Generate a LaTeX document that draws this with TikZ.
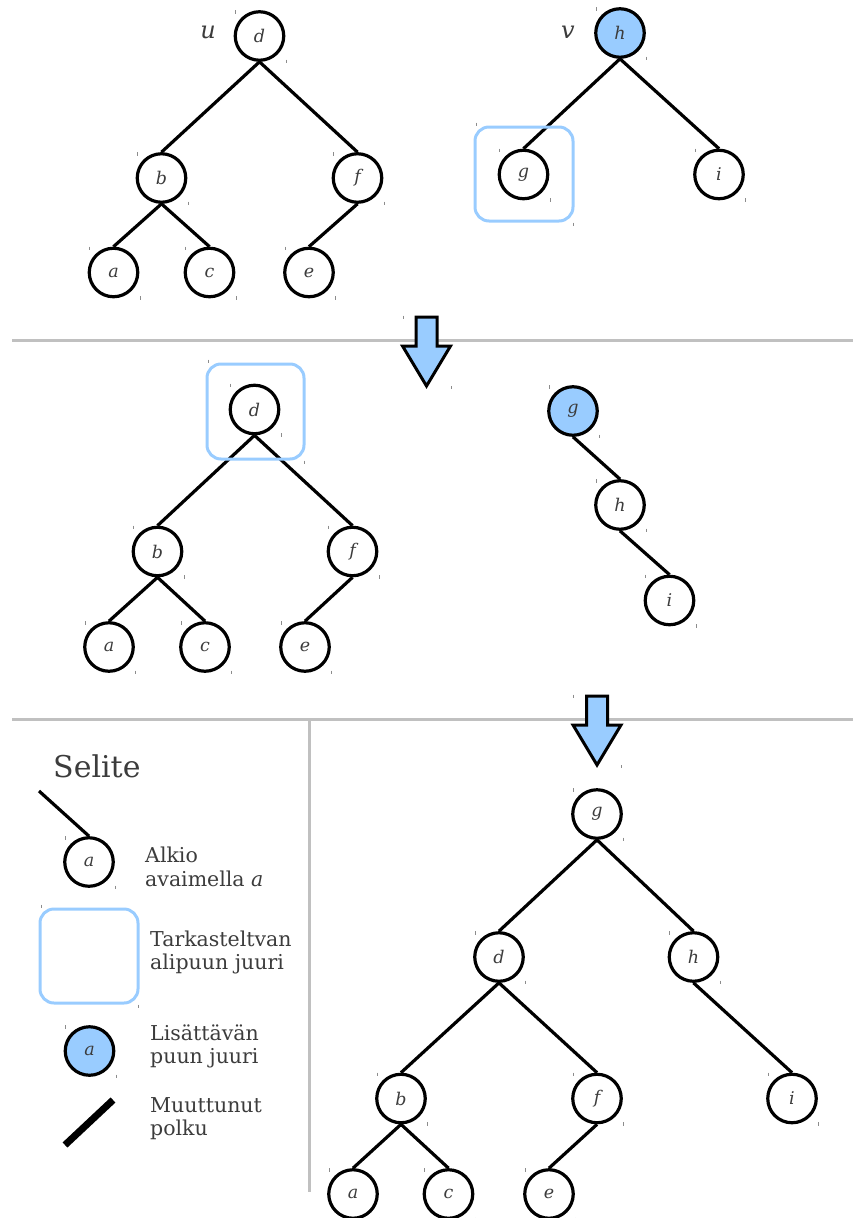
\documentclass[tikz,border=0pt]{standalone}
\usepackage{fontspec}
\setmainfont{DejaVu Serif}

\definecolor{ink}{HTML}{3C3C3C}
\definecolor{keyblue}{HTML}{99CCFF}
\definecolor{rulegray}{HTML}{C0C0C0}
\definecolor{tickgray}{HTML}{8C8C8C}

\tikzset{
  key/.style={circle, draw=black, line width=3.2pt, minimum size=48.5pt,
    inner sep=0pt, fill=white, text=ink,
    font=\fontsize{17.5}{20}\selectfont\itshape},
  newroot/.style={key, fill=keyblue},
  edge/.style={line width=3.2pt},
  focusbox/.style={draw=keyblue, line width=3pt, rounded corners=14pt},
  rule/.style={draw=rulegray, line width=3pt},
  movearrow/.style={draw=black, line width=3pt, fill=keyblue, line join=miter},
  legendtext/.style={anchor=base west, align=left, inner sep=0pt, text=ink,
    font=\fontsize{20.5}{23.5}\selectfont},
  treename/.style={anchor=base, text=ink, font=\fontsize{24}{27}\selectfont\itshape},
  tickmark/.style={draw=tickgray, line width=0.8pt},
  downarrow/.pic={
    \draw[movearrow] (-10.5,0) -- (10.5,0) -- (10.5,29) -- (24,29)
      -- (0,69) -- (-24,29) -- (-10.5,29) -- cycle;
    \draw[tickmark] (-23.5,-1.5) -- ++(0,3);
    \draw[tickmark] (24.5,69) -- ++(0,3);
  }
}

% small corner marks beside each key
\newcommand\cornermarks[1]{%
  \draw[tickmark] ([shift={(-24,-26)}]#1.center) -- ++(0,3.5);
  \draw[tickmark] ([shift={(26.5,23.5)}]#1.center) -- ++(0,3.5);
}
% rounded frame with its corner marks
\newcommand\focusframe[4]{%
  \draw[focusbox] (#1,#2) rectangle (#3,#4);
  \draw[tickmark] (#1+1,#2-4.5) -- ++(0,3);
  \draw[tickmark] (#3,#4+1.5) -- ++(0,3);
}

\begin{document}
\begin{tikzpicture}[x=1pt, y=-1pt]
\useasboundingbox (0,0) rectangle (853,1218);

% ---------- first row: trees u and v ----------
\node[treename] at (208,38) {u};
\node[treename] at (568,38) {v};

\node[key] (ud) at (259.5,36) {d};
\node[key] (ub) at (161.5,178) {b};
\node[key] (uf) at (357.5,178) {f};
\node[key] (ua) at (113.5,272.5) {a};
\node[key] (uc) at (209.5,272.5) {c};
\node[key] (ue) at (309,272.5) {e};
\draw[edge] (ud.south) -- (ub.north);
\draw[edge] (ud.south) -- (uf.north);
\draw[edge] (ub.south) -- (ua.north);
\draw[edge] (ub.south) -- (uc.north);
\draw[edge] (uf.south) -- (ue.north);

\node[newroot] (vh) at (620,33) {h};
\node[key] (vg) at (523.5,174.5) {g};
\node[key] (vi) at (719,174.5) {i};
\draw[edge] (vh.south) -- (vg.north);
\draw[edge] (vh.south) -- (vi.north);
\focusframe{475}{127}{573}{221}

\foreach \n in {ud,ub,uf,ua,uc,ue,vh,vg,vi} {\cornermarks{\n}}

\draw[rule] (12,340) -- (853,340);
\pic at (426.5,317) {downarrow};

% ---------- second row ----------
\node[key] (md) at (254.5,409.5) {d};
\node[key] (mb) at (157.5,551.5) {b};
\node[key] (mf) at (352.5,551.5) {f};
\node[key] (ma) at (109,647) {a};
\node[key] (mc) at (205,647) {c};
\node[key] (me) at (305,647) {e};
\draw[edge] (md.south) -- (mb.north);
\draw[edge] (md.south) -- (mf.north);
\draw[edge] (mb.south) -- (ma.north);
\draw[edge] (mb.south) -- (mc.north);
\draw[edge] (mf.south) -- (me.north);
\focusframe{207}{364}{304}{459}

\node[newroot] (mg) at (573,411) {g};
\node[key] (mh) at (620,505) {h};
\node[key] (mi) at (669.5,600.5) {i};
\draw[edge] (mg.south) -- (mh.north);
\draw[edge] (mh.south) -- (mi.north);

\foreach \n in {md,mb,mf,ma,mc,me,mg,mh,mi} {\cornermarks{\n}}

\draw[rule] (12,719) -- (853,719);
\draw[rule] (309,719) -- (309,1192);
\pic at (597,696) {downarrow};

% ---------- result tree ----------
\node[key] (rg) at (597,814) {g};
\node[key] (rd) at (499,957) {d};
\node[key] (rh) at (693.5,957) {h};
\node[key] (rb) at (401,1098.5) {b};
\node[key] (rf) at (597,1098.5) {f};
\node[key] (ri) at (792,1098.5) {i};
\node[key] (ra) at (353,1194) {a};
\node[key] (rc) at (448.5,1194) {c};
\node[key] (re) at (549,1194) {e};
\draw[edge] (rg.south) -- (rd.north);
\draw[edge] (rg.south) -- (rh.north);
\draw[edge] (rd.south) -- (rb.north);
\draw[edge] (rd.south) -- (rf.north);
\draw[edge] (rh.south) -- (ri.north);
\draw[edge] (rb.south) -- (ra.north);
\draw[edge] (rb.south) -- (rc.north);
\draw[edge] (rf.south) -- (re.north);

\foreach \n in {rg,rd,rh,rb,rf,ri,ra,rc,re} {\cornermarks{\n}}

% ---------- legend ----------
% multi-line legend texts are placed by the baseline of their last line
\node[anchor=base west, inner sep=0pt, text=ink, font=\fontsize{30}{34}\selectfont] (lgtitle) at (53,777) {Selite};

\coordinate (lgfree) at (39,791);
\node[key] (lgkey) at (89,862) {a};
\draw[edge] (lgfree) -- (lgkey.north);
\cornermarks{lgkey}
\node[legendtext] (lgkeytext) at (145,886) {Alkio\\avaimella \textit{a}};

\focusframe{40}{909}{138}{1003}
\node[legendtext] (lgboxtext) at (150,969.5) {Tarkasteltvan\\alipuun juuri};

\node[newroot] (lgroot) at (89.5,1051) {a};
\cornermarks{lgroot}
\node[legendtext] (lgroottext) at (150,1063.5) {Lisättävän\\puun juuri};

\coordinate (lgpathA) at (65,1145);
\coordinate (lgpathB) at (113,1100);
\draw[line width=7pt] (lgpathA) -- (lgpathB);
\node[legendtext] (lgpathtext) at (150,1135.5) {Muuttunut\\polku};
\end{tikzpicture}
\end{document}
